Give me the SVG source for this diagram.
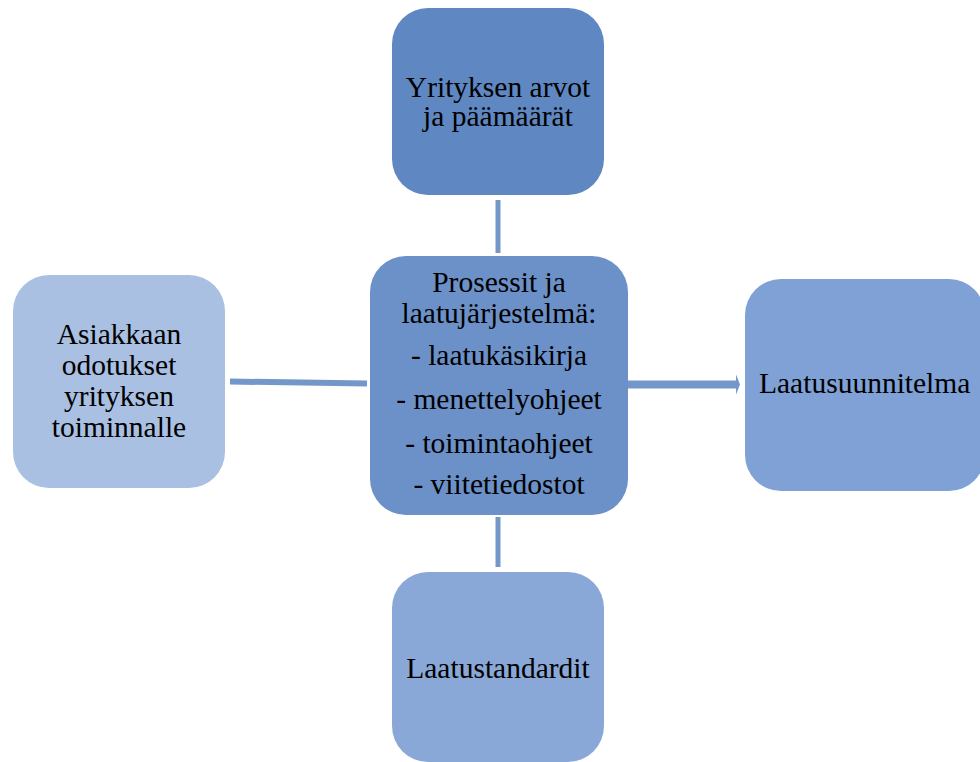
<svg xmlns="http://www.w3.org/2000/svg" width="980" height="762" viewBox="0 0 980 762">
<style>
.t{font-family:"Liberation Serif","Times New Roman",serif;font-size:29.5px;fill:#000;text-anchor:middle}
.c{stroke:#7497c9;fill:none}
</style>
<defs>
<marker id="ah" markerWidth="4" markerHeight="20" refX="0" refY="10" orient="auto" markerUnits="userSpaceOnUse">
<path d="M0,0 L4,10 L0,20 Z" fill="#7497c9"/>
</marker>
</defs>
<rect width="980" height="762" fill="#fff"/>
<g id="connectors">
<line class="c" x1="498" y1="200" x2="498" y2="253" stroke-width="5"/>
<line class="c" x1="498" y1="517" x2="498" y2="567" stroke-width="5"/>
<line class="c" x1="230" y1="381.5" x2="367" y2="383.5" stroke-width="6"/>
<line class="c" x1="627" y1="384.5" x2="736" y2="384.5" stroke-width="8" marker-end="url(#ah)"/>
</g>
<g id="node-top">
<rect x="392" y="8" width="212" height="187" rx="36" fill="#5f87c1"/>
<text class="t" x="498" y="97">Yrityksen arvot</text>
<text class="t" x="498" y="126">ja päämäärät</text>
</g>
<g id="node-center">
<rect x="370" y="256" width="258" height="259" rx="36" fill="#6c91c8"/>
<text class="t" x="499" y="292">Prosessit ja</text>
<text class="t" x="499" y="323">laatujärjestelmä:</text>
<text class="t" x="499" y="365">- laatukäsikirja</text>
<text class="t" x="499" y="409">- menettelyohjeet</text>
<text class="t" x="499" y="453">- toimintaohjeet</text>
<text class="t" x="499" y="494">- viitetiedostot</text>
</g>
<g id="node-left">
<rect x="13" y="275" width="212" height="213" rx="36" fill="#a9c0e2"/>
<text class="t" x="119" y="344">Asiakkaan</text>
<text class="t" x="119" y="375">odotukset</text>
<text class="t" x="119" y="406">yrityksen</text>
<text class="t" x="119" y="437">toiminnalle</text>
</g>
<g id="node-right">
<rect x="745" y="279" width="240" height="212" rx="36" fill="#7fa1d6"/>
<text class="t" x="759" y="393" style="text-anchor:start">Laatusuunnitelma</text>
</g>
<g id="node-bottom">
<rect x="392" y="572" width="212" height="190" rx="36" fill="#8aa8d7"/>
<text class="t" x="498" y="678">Laatustandardit</text>
</g>
</svg>
